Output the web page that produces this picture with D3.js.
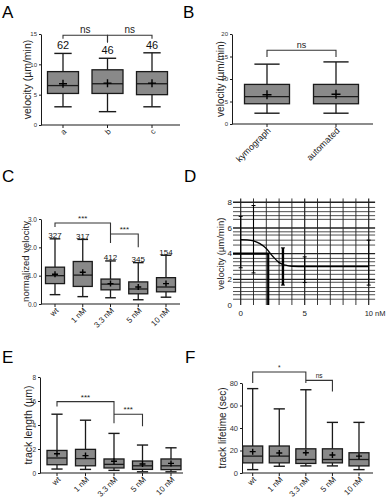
<!DOCTYPE html>
<html><head><meta charset="utf-8">
<script src="https://cdn.jsdelivr.net/npm/d3@7"></script>
<style>
body { margin: 0; background: #fff; }
svg { display: block; font-family: "Liberation Sans", Arial, sans-serif; }
</style>
</head><body>
<script>
// box stats are [min, q1, median, q3, max]
const catsA = ['a', 'b', 'c']
const boxA = [[3, 5.2, 6.5, 8.8, 11.8], [2.2, 5.2, 6.8, 9.1, 11], [3, 5, 6.8, 8.8, 11.9]]
const meanA = [6.8, 6.9, 6.9]
const nA = ['62', '46', '46']
const ticksA = [0, 5, 10, 15]
const sigA = [[0, 1, 14.8, 14.2, 13.6, 'ns'], [1, 2, 14.8, 13.6, 14.2, 'ns']]

const catsB = ['kymograph', 'automated']
const boxB = [[2.4, 4.5, 6.1, 8.8, 13.3], [2.4, 4.5, 6.1, 8.8, 13.8]]
const meanB = [6.5, 6.6]
const ticksB = [0, 5, 10, 15, 20]
const sigB = [[0, 1, 16.4, 14.9, 14.9, 'ns']]

const catsConc = ['wt', '1 nM', '3.3 nM', '5 nM', '10 nM']

const boxC = [[0.33, 0.72, 1.0, 1.3, 2.3], [0.26, 0.62, 1.02, 1.5, 2.28], [0.22, 0.5, 0.7, 0.88, 1.52],
  [0.15, 0.36, 0.53, 0.78, 1.46], [0.24, 0.43, 0.6, 0.93, 1.72]]
const meanC = [1.05, 1.12, 0.72, 0.6, 0.72]
const nC = ['327', '317', '412', '345', '154']
const ticksC = [0, 1, 2, 3]
const sigC = [[0, 2, 2.86, 2.72, 2.15, '***'], [2, 3, 2.47, 2.47, 2.0, '***']]

const boxE = [[0.33, 0.69, 1.25, 1.88, 4.9], [0.3, 0.6, 1.2, 1.97, 4.4], [0.22, 0.42, 0.72, 1.17, 3.3],
  [0.1, 0.3, 0.6, 1.0, 2.33], [0.1, 0.28, 0.6, 1.17, 2.1]]
const meanE = [1.6, 1.45, 0.98, 0.75, 0.8]
const ticksE = [0, 2, 4, 6, 8]
const sigE = [[0, 2, 5.95, 5.55, 4.15, '***'], [2, 3, 4.9, 4.9, 3.9, '***']]

const boxF = [[3, 9, 15, 24, 75], [6, 9, 15, 24, 57], [6.3, 8.5, 12, 21.5, 74],
  [6.3, 9, 12, 21.5, 45], [3, 6.3, 12, 18, 45]]
const meanF = [19, 17.8, 18, 16, 15]
const ticksF = [0, 20, 40, 60, 80]
const sigF = [[0, 2, 89.8, 80, 80, '*'], [2, 3, 82.3, 82.3, 72.5, 'ns']]

// panel D: dose response
const curveD = [[0, 5.1], [0.5, 5.08], [1, 5.0], [1.5, 4.78], [2, 4.4], [2.5, 3.8], [3, 3.3], [3.5, 3.1], [4, 3.02], [5, 3.0], [10, 3.0]]
const errD = [[0, 2.9, 6.9], [1, 2.5, 7.75], [3.3, 1.55, 4.45], [5, 1.75, 3.75], [10, 1.55, 5.05]]
const gridXD = [0, 1, 2, 3, 4, 5, 6, 7, 8, 9, 10]
const gridYD = [0.45, 0.8, 1.05, 1.36, 1.77, 2, 2.39, 2.7, 3.06, 3.37, 3.63, 4, 4.67, 5.05, 5.45, 5.7, 6, 6.67, 6.96, 7.27, 7.6, 8]
const ticksYD = [0, 2, 4, 6, 8]
const ticksXD = [[0, '0'], [5, '5'], [10, '10 nM']]
const ec50D = 2.15

const svg = d3.select('body').append('svg')
  .attr('width', 386)
  .attr('height', 500)

const fill = '#898989'
const ink = '#1a1a1a'

function boxPanel(o) {
  const y = d3.scaleLinear().domain([0, o.ymax]).range([o.yb, o.yt])
  const x = d3.scalePoint().domain(o.cats).range(o.xr)
  const g = svg.append('g')

  // y axis
  g.append('g')
    .attr('transform', `translate(${o.ax},0)`)
    .call(d3.axisLeft(y).tickValues(o.ticks).tickSize(2).tickSizeOuter(0).tickPadding(2))
    .call(a => a.selectAll('text').attr('font-size', o.tickFont).attr('fill', '#333').style('font-family', 'inherit'))
    .call(a => a.selectAll('line,path').attr('stroke', ink).attr('stroke-width', 1))

  // x axis
  g.append('line')
    .attr('x1', o.ax).attr('x2', o.axEnd)
    .attr('y1', y(0)).attr('y2', y(0))
    .attr('stroke', ink).attr('stroke-width', 1.2)
  g.selectAll('.xt').data(o.cats).enter().append('line')
    .attr('x1', d => x(d)).attr('x2', d => x(d))
    .attr('y1', y(0)).attr('y2', y(0) + 3)
    .attr('stroke', ink)
  g.selectAll('.xl').data(o.cats).enter().append('text')
    .attr('transform', d => `translate(${x(d) + 2},${y(0) + 5}) rotate(-45)`)
    .attr('text-anchor', 'end')
    .attr('dy', '0.35em')
    .attr('font-size', o.catFont)
    .attr('fill', '#222')
    .text(d => d)

  const bw = o.bw
  const box = g.selectAll('.box').data(o.stats).enter().append('g')
    .attr('transform', (d, i) => `translate(${x(o.cats[i])},0)`)
  // whiskers
  box.append('line').attr('y1', d => y(d[3])).attr('y2', d => y(d[4]))
    .attr('stroke', ink).attr('stroke-width', 1.3)
  box.append('line').attr('y1', d => y(d[0])).attr('y2', d => y(d[1]))
    .attr('stroke', ink).attr('stroke-width', 1.3)
  box.append('line').attr('x1', -bw * 0.28).attr('x2', bw * 0.28)
    .attr('y1', d => y(d[4])).attr('y2', d => y(d[4]))
    .attr('stroke', ink).attr('stroke-width', 1.4)
  box.append('line').attr('x1', -bw * 0.28).attr('x2', bw * 0.28)
    .attr('y1', d => y(d[0])).attr('y2', d => y(d[0]))
    .attr('stroke', ink).attr('stroke-width', 1.4)
  box.append('rect')
    .attr('x', -bw / 2).attr('width', bw)
    .attr('y', d => y(d[3])).attr('height', d => y(d[1]) - y(d[3]))
    .attr('fill', fill).attr('stroke', ink).attr('stroke-width', 1.3)
  box.append('line').attr('x1', -bw / 2).attr('x2', bw / 2)
    .attr('y1', d => y(d[2])).attr('y2', d => y(d[2]))
    .attr('stroke', ink).attr('stroke-width', 1.3)
  // mean +
  const m = o.plus
  box.append('path')
    .attr('d', (d, i) => `M${-m},${y(o.means[i])}h${2 * m}M0,${y(o.means[i]) - m}v${2 * m}`)
    .attr('stroke', '#000').attr('stroke-width', 1.4)

  // n labels
  if (o.ns) {
    box.append('text')
      .attr('text-anchor', 'middle')
      .attr('y', d => y(d[4]) - o.nGap)
      .attr('font-size', o.nFont)
      .attr('fill', '#111')
      .text((d, i) => o.ns[i])
  }

  // significance brackets
  o.sig.forEach(s => {
    const [i, j, lvl, e1, e2, lab] = s
    const x1 = x(o.cats[i]), x2 = x(o.cats[j])
    g.append('path')
      .attr('d', `M${x1},${y(e1)}V${y(lvl)}H${x2}V${y(e2)}`)
      .attr('fill', 'none').attr('stroke', '#333').attr('stroke-width', 1.1)
    g.append('text')
      .attr('x', (x1 + x2) / 2).attr('y', y(lvl) - 2)
      .attr('text-anchor', 'middle')
      .attr('font-size', o.sigFont)
      .attr('fill', '#222')
      .text(lab)
  })

  // y title
  g.append('text')
    .attr('transform', `translate(${o.titleX},${(y(0) + y(o.ymax)) / 2}) rotate(-90)`)
    .attr('text-anchor', 'middle')
    .attr('font-size', o.titleFont)
    .attr('fill', '#222')
    .text(o.title)
}

boxPanel({ cats: catsA, stats: boxA, means: meanA, ns: nA, ticks: ticksA, sig: sigA, ymax: 15,
  yb: 125, yt: 34, xr: [63, 152], ax: 41, axEnd: 180, bw: 31, plus: 4, nGap: 4, nFont: 11,
  sigFont: 10, tickFont: 6, catFont: 8, title: 'velocity (µm/min)', titleX: 31, titleFont: 10.5 })

boxPanel({ cats: catsB, stats: boxB, means: meanB, ticks: ticksB, sig: sigB, ymax: 20,
  yb: 124, yt: 34, xr: [267, 336], ax: 232, axEnd: 373, bw: 45, plus: 4.5,
  sigFont: 9, tickFont: 6, catFont: 9, title: 'velocity (µm/min)', titleX: 224, titleFont: 10 })

boxPanel({ cats: catsConc, stats: boxC, means: meanC, ns: nC, ticks: ticksC, sig: sigC, ymax: 3,
  yb: 304, yt: 219, xr: [55, 166], ax: 41, axEnd: 180, bw: 19, plus: 3, nGap: 0.5, nFont: 8,
  sigFont: 8, tickFont: 6.5, catFont: 8, title: 'normalized velocity', titleX: 29, titleFont: 9.5 })

boxPanel({ cats: catsConc, stats: boxE, means: meanE, ticks: ticksE, sig: sigE, ymax: 8,
  yb: 473, yt: 377, xr: [57, 171], ax: 40, axEnd: 183, bw: 20, plus: 3,
  sigFont: 8, tickFont: 6.5, catFont: 8, title: 'track length (µm)', titleX: 32, titleFont: 10.5 })

boxPanel({ cats: catsConc, stats: boxF, means: meanF, ticks: ticksF, sig: sigF, ymax: 80,
  yb: 473, yt: 383, xr: [252.7, 359], ax: 242, axEnd: 373, bw: 20, plus: 3,
  sigFont: 6.5, tickFont: 7.5, catFont: 8, title: 'track lifetime (sec)', titleX: 226, titleFont: 10 })

// panel D
{
  const x = d3.scaleLinear().domain([0, 10]).range([240.7, 368.7])
  const y = d3.scaleLinear().domain([0, 8]).range([305, 202.3])
  const g = svg.append('g')
  g.selectAll('.gx').data(gridXD).enter().append('line')
    .attr('x1', d => x(d)).attr('x2', d => x(d))
    .attr('y1', y(0)).attr('y2', y(8.3))
    .attr('stroke', '#222').attr('stroke-width', d => d % 5 === 0 ? 1.2 : 0.9)
  g.selectAll('.gy').data(gridYD).enter().append('line')
    .attr('x1', x(-0.6)).attr('x2', x(10.5))
    .attr('y1', d => y(d)).attr('y2', d => y(d))
    .attr('stroke', '#222').attr('stroke-width', d => d % 2 === 0 ? 1.4 : 0.8)

  g.append('path')
    .attr('d', d3.line().x(d => x(d[0])).y(d => y(d[1])).curve(d3.curveMonotoneX)(curveD))
    .attr('fill', 'none').attr('stroke', '#000').attr('stroke-width', 1.3)

  // error bars
  const eb = g.selectAll('.eb').data(errD).enter().append('g')
  eb.append('line')
    .attr('x1', d => x(d[0])).attr('x2', d => x(d[0]))
    .attr('y1', d => y(d[1])).attr('y2', d => y(d[2]))
    .attr('stroke', '#000').attr('stroke-width', d => d[0] === 3.3 ? 2.4 : 1.1)
  eb.append('path')
    .attr('d', d => `M${x(d[0]) - 2},${y(d[1])}h4M${x(d[0]) - 2},${y(d[2])}h4`)
    .attr('stroke', '#000').attr('stroke-width', 1)

  // EC50 guide
  g.append('path')
    .attr('d', `M${x(-0.6)},${y(4)}H${x(ec50D)}V${y(0)}`)
    .attr('fill', 'none').attr('stroke', '#000').attr('stroke-width', 2.2)

  g.selectAll('.ty').data(ticksYD).enter().append('text')
    .attr('x', 232).attr('y', d => y(d)).attr('dy', '0.35em')
    .attr('text-anchor', 'end').attr('font-size', 8).attr('fill', '#222')
    .text(d => d)
  g.selectAll('.tx').data(ticksXD).enter().append('text')
    .attr('x', d => x(d[0])).attr('y', 316)
    .attr('text-anchor', (d, i) => i === 2 ? 'start' : 'middle')
    .attr('dx', (d, i) => i === 2 ? -4 : 0)
    .attr('font-size', (d, i) => i === 2 ? 7.5 : 8).attr('fill', '#222')
    .text(d => d[1])
  g.append('text')
    .attr('transform', `translate(224,${y(4)}) rotate(-90)`)
    .attr('text-anchor', 'middle').attr('font-size', 9.5).attr('fill', '#222')
    .text('velocity (µm/min)')
}

// panel letters
const letters = [['A', 2, 18], ['B', 183, 18], ['C', 2, 182], ['D', 184, 182], ['E', 2, 363], ['F', 185, 363]]
svg.selectAll('.lt').data(letters).enter().append('text')
  .attr('x', d => d[1]).attr('y', d => d[2])
  .attr('font-size', 17).attr('fill', '#000')
  .text(d => d[0])
</script>
</body></html>
